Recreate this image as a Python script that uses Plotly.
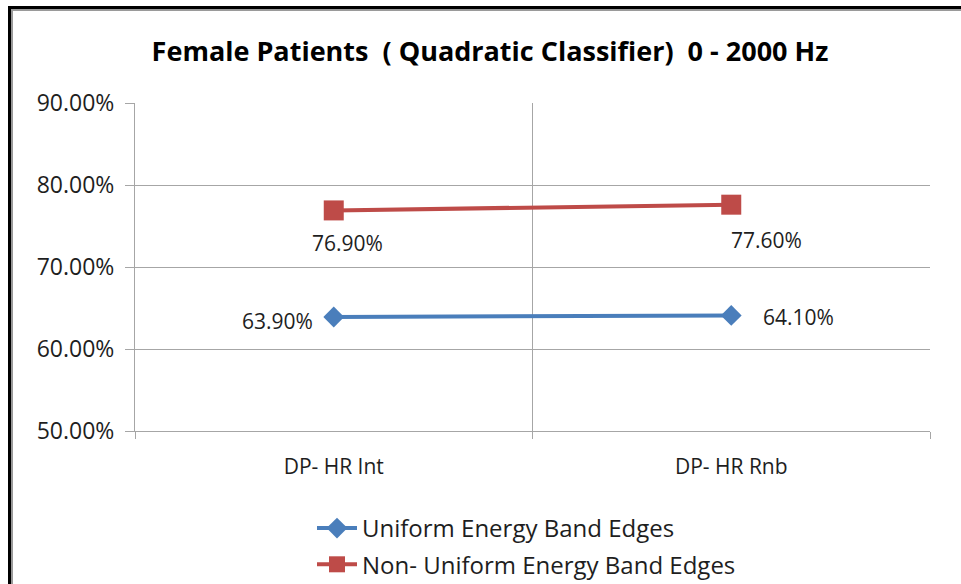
import plotly.graph_objects as go

# Chart data
categories = ["DP- HR Int", "DP- HR Rnb"]
uniform_vals = [63.9, 64.1]
nonuniform_vals = [76.9, 77.6]
series_names = ["Uniform Energy Band Edges", "Non- Uniform Energy Band Edges"]
y_ticks = [50, 60, 70, 80, 90]
y_tick_text = [f"{v:.2f}%" for v in y_ticks]

BLUE = "#4A7EBB"
RED = "#BE4B48"
GRID = "#A6A6A6"
TEXT = "#1E1E1E"
FONT = "Open Sans"

W, H = 961, 584
ML, MR, MT, MB = 135, 31, 103, 153
PW, PH = W - ML - MR, H - MT - MB


def px_x(px):
    return (px - ML) / PW


def px_y(py):
    return (H - MB - py) / PH


fig = go.Figure()
fig.add_trace(go.Scatter(
    x=categories, y=uniform_vals, name=series_names[0], mode="lines+markers",
    line=dict(color=BLUE, width=4),
    marker=dict(symbol="diamond", size=16, color=BLUE),
    legendgroup="a",
))
fig.add_trace(go.Scatter(
    x=categories, y=nonuniform_vals, name=series_names[1], mode="lines+markers",
    line=dict(color=RED, width=4),
    marker=dict(symbol="square", size=20, color=RED),
    legendgroup="b",
))

# Value labels
label_font = dict(family=FONT, size=21, color=TEXT)
offsets_uniform = [(-56, -4), (67, -2)]
offsets_nonuniform = [(14, -33), (35, -35)]
for cat, v, (dx, dy) in zip(categories, uniform_vals, offsets_uniform):
    fig.add_annotation(x=cat, y=v, text=f"{v:.2f}%", showarrow=False,
                       xshift=dx, yshift=dy, font=label_font)
for cat, v, (dx, dy) in zip(categories, nonuniform_vals, offsets_nonuniform):
    fig.add_annotation(x=cat, y=v, text=f"{v:.2f}%", showarrow=False,
                       xshift=dx, yshift=dy, font=label_font)

# Frame around the chart (left and top edges)
shapes = [
    dict(type="line", xref="paper", yref="paper",
         x0=px_x(9.5), x1=px_x(9.5), y0=px_y(6), y1=px_y(H),
         line=dict(color="black", width=3)),
    dict(type="line", xref="paper", yref="paper",
         x0=px_x(12), x1=px_x(12), y0=px_y(9), y1=px_y(H),
         line=dict(color="#9A9A9A", width=2)),
    dict(type="line", xref="paper", yref="paper",
         x0=px_x(8), x1=px_x(W), y0=px_y(7.5), y1=px_y(7.5),
         line=dict(color="black", width=3)),
    dict(type="line", xref="paper", yref="paper",
         x0=px_x(11), x1=px_x(W), y0=px_y(10), y1=px_y(10),
         line=dict(color="#9A9A9A", width=2)),
]

fig.update_layout(
    width=W, height=H,
    margin=dict(l=ML, r=MR, t=MT, b=MB, autoexpand=False),
    paper_bgcolor="white", plot_bgcolor="white",
    shapes=shapes,
    title=dict(
        text="<b>Female Patients \u00a0( Quadratic Classifier) \u00a00 - 2000 Hz</b>",
        x=px_x(490), xanchor="center", y=1 - 52 / H, yanchor="middle",
        xref="paper", yref="container",
        font=dict(family=FONT, size=27, color="black"),
    ),
    xaxis=dict(
        type="category", range=[-0.5, 1.5], tickson="boundaries",
        showgrid=True, gridcolor=GRID, gridwidth=1,
        showline=True, linecolor=GRID, linewidth=1,
        ticks="outside", ticklen=7, tickcolor=GRID,
        tickfont=dict(family=FONT, size=21, color=TEXT),
        ticklabelstandoff=17,
        zeroline=False, fixedrange=True,
    ),
    yaxis=dict(
        range=[50, 90], tickvals=y_ticks, ticktext=y_tick_text,
        showgrid=True, gridcolor=GRID, gridwidth=1,
        showline=True, linecolor=GRID, linewidth=1,
        ticks="outside", ticklen=9, tickcolor=GRID,
        tickfont=dict(family=FONT, size=23, color=TEXT),
        ticklabelstandoff=6,
        zeroline=False, fixedrange=True,
    ),
    legend=dict(
        x=px_x(312), y=px_y(506), xanchor="left", yanchor="top",
        orientation="v", traceorder="grouped", tracegroupgap=2,
        font=dict(family=FONT, size=24, color=TEXT),
        bgcolor="rgba(0,0,0,0)", itemwidth=40,
    ),
    showlegend=True,
)

fig.write_html("out.html")
